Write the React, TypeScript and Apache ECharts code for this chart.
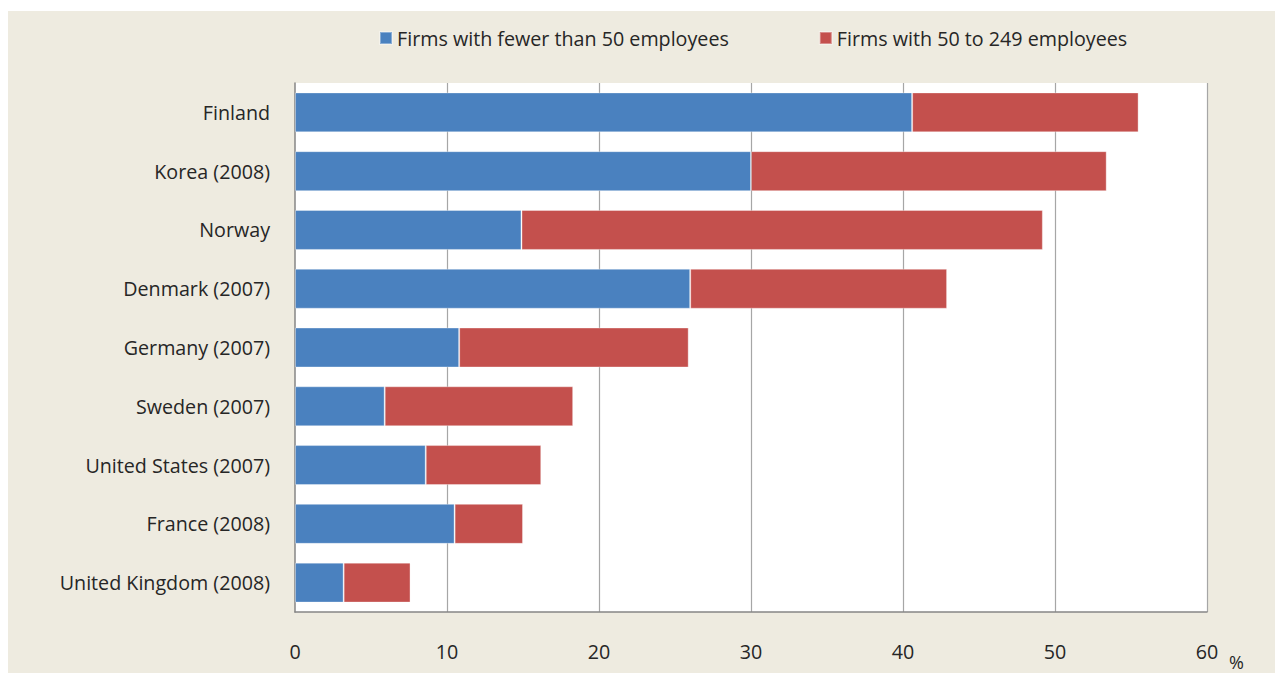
import React, { useEffect, useRef } from "react";
import * as echarts from "echarts";

const categories = [
  "Finland",
  "Korea (2008)",
  "Norway",
  "Denmark (2007)",
  "Germany (2007)",
  "Sweden (2007)",
  "United States (2007)",
  "France (2008)",
  "United Kingdom (2008)",
];
const smallFirms = [40.6, 30.0, 14.9, 26.0, 10.8, 5.9, 8.6, 10.5, 3.2];
const mediumFirms = [14.9, 23.4, 34.3, 16.9, 15.1, 12.4, 7.6, 4.5, 4.4];
const seriesNames = ["Firms with fewer than 50 employees", "Firms with 50 to 249 employees"];
const xTicks = [0, 10, 20, 30, 40, 50, 60];

const FONT = "Open Sans";
const TEXT = "#262626";
const FS = 19.7;

export default function App() {
  const ref = useRef<HTMLDivElement>(null);
  useEffect(() => {
    if (!ref.current) return;
    const chart = echarts.init(ref.current, undefined, { renderer: "svg" });
    const cats = [...categories].reverse();
    const s1 = [...smallFirms].reverse();
    const s2 = [...mediumFirms].reverse();
    chart.setOption({
      animation: false,
      backgroundColor: "#EEEBE0",
      textStyle: { fontFamily: FONT, color: TEXT },
      legend: {
        top: 12,
        left: 366,
        itemWidth: 12,
        itemHeight: 12,
        itemGap: 90,
        icon: "rect",
        textStyle: { fontFamily: FONT, fontSize: FS, color: TEXT, padding: [0, 0, 0, 0] },
        data: seriesNames,
      },
      grid: {
        left: 287,
        top: 72,
        right: 68,
        bottom: 61,
        show: true,
        backgroundColor: "#FFFFFF",
        borderWidth: 0,
      },
      xAxis: {
        type: "value",
        min: 0,
        max: 60,
        interval: 10,
        axisLine: { show: true, lineStyle: { color: "#868686", width: 1.5 } },
        axisTick: { show: false },
        splitLine: { show: true, showMinLine: false, lineStyle: { color: "#A6A6A6", width: 1.2 } },
        axisLabel: {
          margin: 29,
          fontFamily: FONT,
          fontSize: FS,
          color: TEXT,
          formatter: (v: number) => (xTicks.includes(v) ? String(v) : ""),
        },
        name: "%",
        nameLocation: "end",
        nameGap: 22,
        nameTextStyle: {
          fontFamily: FONT,
          fontSize: 18,
          lineHeight: 18,
          color: TEXT,
          verticalAlign: "top",
          padding: [41, 0, 0, 0],
        },
      },
      yAxis: {
        type: "category",
        data: cats,
        axisLine: { show: true, lineStyle: { color: "#868686", width: 1.5 } },
        axisTick: { show: false },
        axisLabel: { margin: 25, fontFamily: FONT, fontSize: FS, color: TEXT },
      },
      series: [
        {
          name: seriesNames[0],
          type: "bar",
          stack: "total",
          data: s1,
          barCategoryGap: "32%",
          itemStyle: { color: "#4A81BF", borderColor: "rgba(255,255,255,0.35)", borderWidth: 1 },
        },
        {
          name: seriesNames[1],
          type: "bar",
          stack: "total",
          data: s2,
          barCategoryGap: "32%",
          itemStyle: { color: "#C4504D", borderColor: "rgba(255,255,255,0.35)", borderWidth: 1 },
        },
      ],
    });
    return () => chart.dispose();
  }, []);
  return (
    <div
      ref={ref}
      style={{ position: "absolute", left: 8, top: 11, width: 1267, height: 662 }}
    />
  );
}
